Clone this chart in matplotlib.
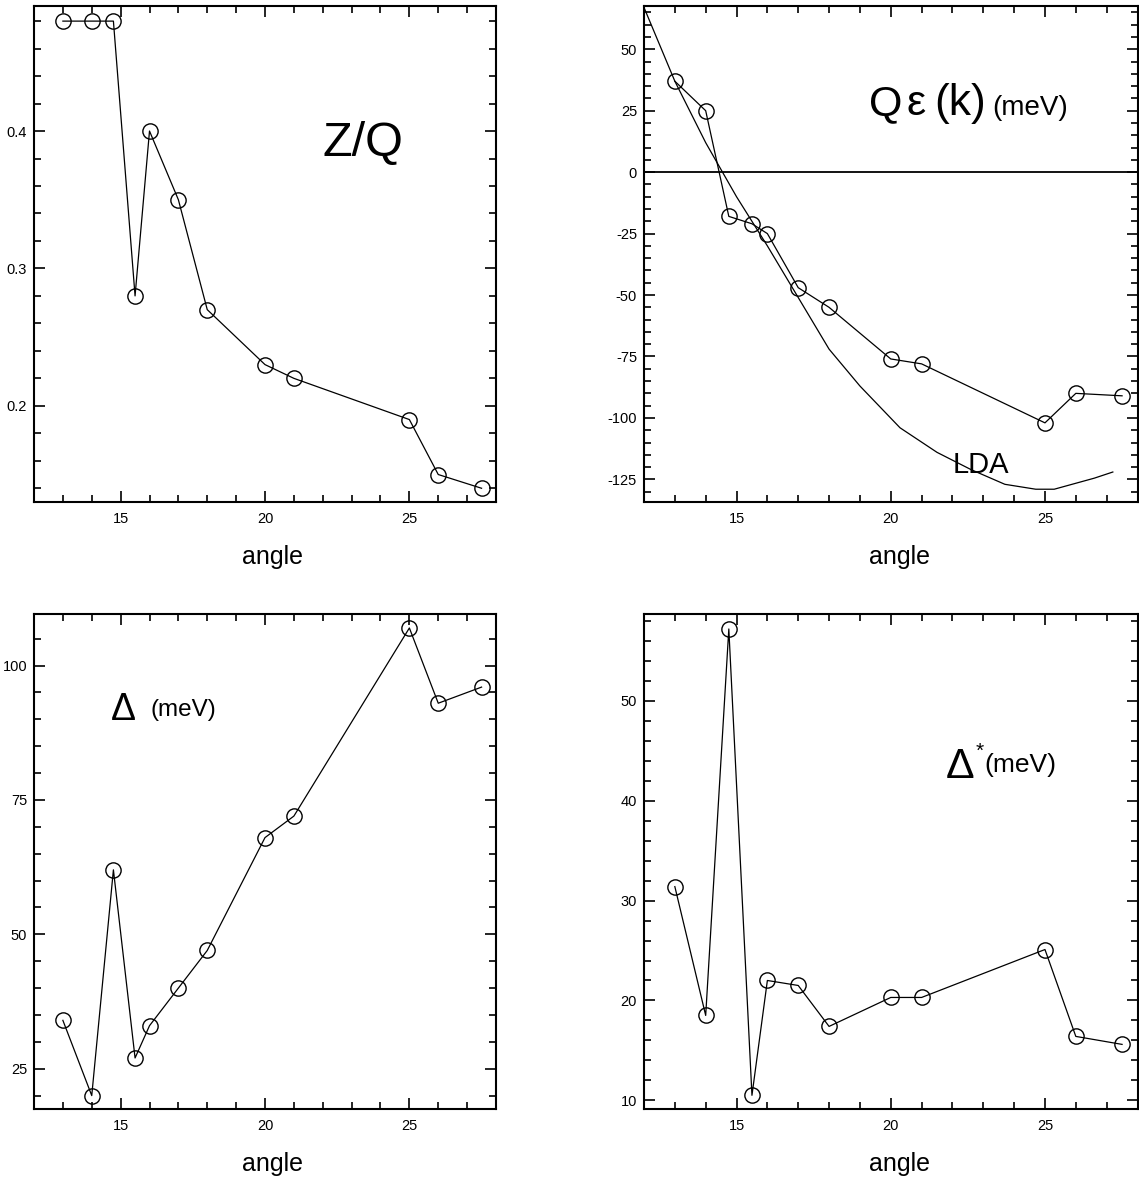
import matplotlib
matplotlib.use("Agg")
import matplotlib.pyplot as plt
from matplotlib.ticker import MultipleLocator

plt.rcParams['font.family'] = ['Liberation Sans', 'DejaVu Sans']
plt.rcParams['axes.unicode_minus'] = False

# angles (same for all four panels)
angle = [13, 14, 14.75, 15.5, 16, 17, 18, 20, 21, 25, 26, 27.5]

# panel values
z_over_q = [0.48, 0.48, 0.48, 0.28, 0.40, 0.35, 0.27, 0.23, 0.22, 0.19, 0.15, 0.14]
q_eps = [37, 25, -18, -21, -25, -47, -55, -76, -78, -102, -90, -91]
delta = [34, 20, 62, 27, 33, 40, 47, 68, 72, 107, 93, 96]
delta_star = [31.4, 18.5, 57.2, 10.5, 22.0, 21.5, 17.4, 20.3, 20.3, 25.1, 16.4, 15.6]

# LDA band
lda_angle = [12, 13, 14, 15, 16, 17, 18, 19, 20.3, 21.5, 22.6, 23.7, 24.7, 25.3, 26.6, 27.2]
lda_eps = [67, 37, 12, -10, -30, -51, -72, -87, -104, -114, -121, -127, -129, -129, -124.5, -122]

W, H = 1139, 1184
fig = plt.figure(figsize=(W / 100, H / 100), dpi=100)


def make_axes(px_left, px_right, px_top, px_bottom):
    return fig.add_axes([px_left / W, 1 - px_bottom / H,
                         (px_right - px_left) / W, (px_bottom - px_top) / H])


def style(ax, ylim, ymajor, yminor, yfmt=None):
    ax.set_xlim(12, 28)
    ax.set_ylim(*ylim)
    ax.xaxis.set_major_locator(MultipleLocator(5))
    ax.xaxis.set_minor_locator(MultipleLocator(1))
    ax.yaxis.set_major_locator(MultipleLocator(ymajor))
    ax.yaxis.set_minor_locator(MultipleLocator(yminor))
    if yfmt:
        ax.yaxis.set_major_formatter(yfmt)
    ax.tick_params(which='both', direction='in', top=True, right=True,
                   labelsize=10.5, width=1.2)
    ax.tick_params(which='major', length=8)
    ax.tick_params(which='minor', length=5)
    ax.tick_params(axis='x', pad=7)
    ax.tick_params(axis='y', pad=5)
    for s in ax.spines.values():
        s.set_linewidth(1.5)
    ax.set_xlabel('angle', fontsize=18, labelpad=14)
    ax.xaxis.label.set_x(0.517)


def data_line(ax, y):
    ax.plot(angle, y, color='black', lw=0.9, marker='o', ms=11,
            mfc='none', mec='black', mew=1.0, clip_on=False)


# top-left: Z/Q
ax1 = make_axes(34, 496, 6, 502)
data_line(ax1, z_over_q)
style(ax1, (0.130, 0.491), 0.1, 0.02, lambda v, p: f"{v:.1f}")
ax1.text(22.0, 0.3816, 'Z/Q', fontsize=35, ha='left', va='baseline')

# top-right: Q eps(k)
ax2 = make_axes(644, 1137.5, 6, 502)
ax2.axhline(0, color='black', lw=1.3)
ax2.plot(lda_angle, lda_eps, color='black', lw=0.9)
data_line(ax2, q_eps)
style(ax2, (-134.2, 67.6), 25, 5, lambda v, p: f"{v:.0f}")
ax2.text(19.30, 23.2, 'Q', fontsize=31, ha='left', va='baseline')
ax2.text(20.50, 23.2, '\u03b5', fontsize=31, ha='left', va='baseline')
ax2.text(21.42, 23.2, '(k)', fontsize=32, ha='left', va='baseline')
ax2.text(23.29, 23.2, '(meV)', fontsize=20, ha='left', va='baseline')
ax2.text(22.02, -122.4, 'LDA', fontsize=21, ha='left', va='baseline')

# bottom-left: Delta
ax3 = make_axes(34, 496, 614, 1109.3)
data_line(ax3, delta)
style(ax3, (17.45, 109.6), 25, 5, lambda v, p: f"{v:.0f}")
ax3.text(14.66, 89.8, '\u0394', fontsize=27, ha='left', va='baseline')
ax3.text(16.04, 90.6, '(meV)', fontsize=17.5, ha='left', va='baseline')

# bottom-right: Delta*
ax4 = make_axes(644, 1137.5, 614, 1109.3)
data_line(ax4, delta_star)
style(ax4, (9.1, 58.7), 10, 2, lambda v, p: f"{v:.0f}")
ax4.text(21.79, 42.3, '\u0394', fontsize=31, ha='left', va='baseline')
ax4.text(22.74, 44.4, '*', fontsize=15, ha='left', va='baseline')
ax4.text(23.05, 42.9, '(meV)', fontsize=19, ha='left', va='baseline')

fig.savefig('out.png', dpi=100)
